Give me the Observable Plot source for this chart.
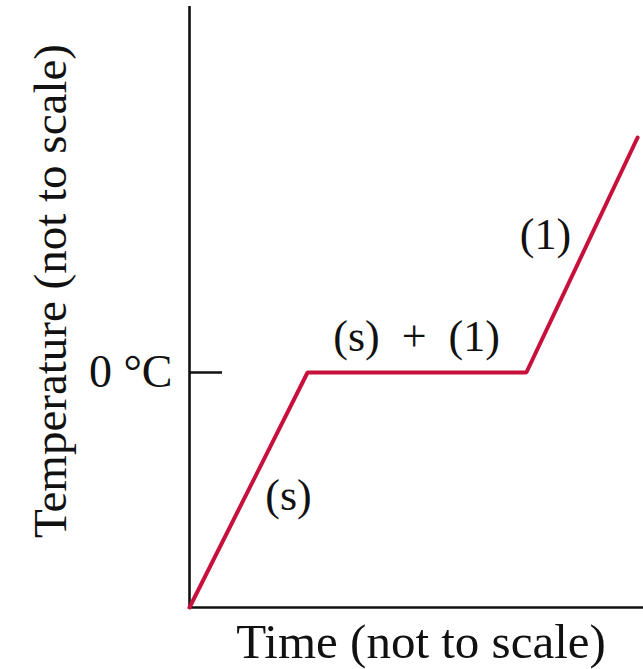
<!DOCTYPE html>
<html>
<head>
<meta charset="utf-8">
<script src="https://cdn.jsdelivr.net/npm/d3@7"></script>
<script src="https://cdn.jsdelivr.net/npm/@observablehq/plot@0.6"></script>
<style>
  html, body { margin: 0; padding: 0; background: #fff; }
</style>
</head>
<body>
<div id="chart"></div>
<script>
// Heating curve of water: solid warms, melts at 0 °C, then liquid warms.
const time = [0, 26, 74.2, 98.7];
const temperature = [-40, 0, 0, 40];

// Phase labels placed along the curve
const phaseLabels = ["(s)", "(s)\u2002+\u2002(1)", "(1)"];
const labelTime = [21.8, 50, 78.4];
const labelTemp = [-21, 6.1, 23.5];

// Single labelled tick on the temperature axis
const tempTicks = [0];
const tempTickLabels = ["0 °C"];

const xTitle = "Time (not to scale)";
const yTitle = "Temperature (not to scale)";

const curve = time.map((t, i) => ({time: t, temperature: temperature[i]}));
const labels = phaseLabels.map((text, i) => ({text, time: labelTime[i], temperature: labelTemp[i]}));

const serif = "'Liberation Serif', 'Times New Roman', Times, serif";
const red = "#c8103c";

const chart = Plot.plot({
  width: 643,
  height: 669,
  marginLeft: 189,
  marginRight: 0,
  marginTop: 6,
  marginBottom: 62,
  style: {fontFamily: serif, fontSize: "44px", color: "#111", background: "#fff"},
  x: {domain: [0, 100], axis: null},
  y: {domain: [-40, 62.3], axis: null},
  marks: [
    // axis lines
    Plot.ruleX([0], {stroke: "#111", strokeWidth: 2.6}),
    Plot.ruleY([-40], {stroke: "#111", strokeWidth: 2.6}),
    // inward tick at the melting point
    Plot.tickY(tempTicks, {y: d => d, stroke: "#111", strokeWidth: 2.4, insetRight: 421}),
    Plot.axisY(tempTicks, {
      anchor: "left",
      tickSize: 0,
      tickPadding: 17,
      fontSize: 46,
      tickFormat: (d, i) => tempTickLabels[i],
      label: null
    }),
    // heating curve
    Plot.line(curve, {x: "time", y: "temperature", stroke: red, strokeWidth: 4, strokeLinejoin: "miter"}),
    // phase labels
    Plot.text(labels, {x: "time", y: "temperature", text: "text", fontSize: 44, lineAnchor: "middle", fill: "#111"}),
    // axis titles
    Plot.text([xTitle], {frameAnchor: "bottom", text: d => d, fontSize: 49, textAnchor: "middle", lineAnchor: "middle", dx: 4.5, dy: 35, fill: "#111"}),
    Plot.text([yTitle], {frameAnchor: "left", text: d => d, fontSize: 47, rotate: -90, textAnchor: "middle", lineAnchor: "middle", dx: -139, dy: -16, fill: "#111"})
  ]
});

document.getElementById("chart").appendChild(chart);
</script>
</body>
</html>
